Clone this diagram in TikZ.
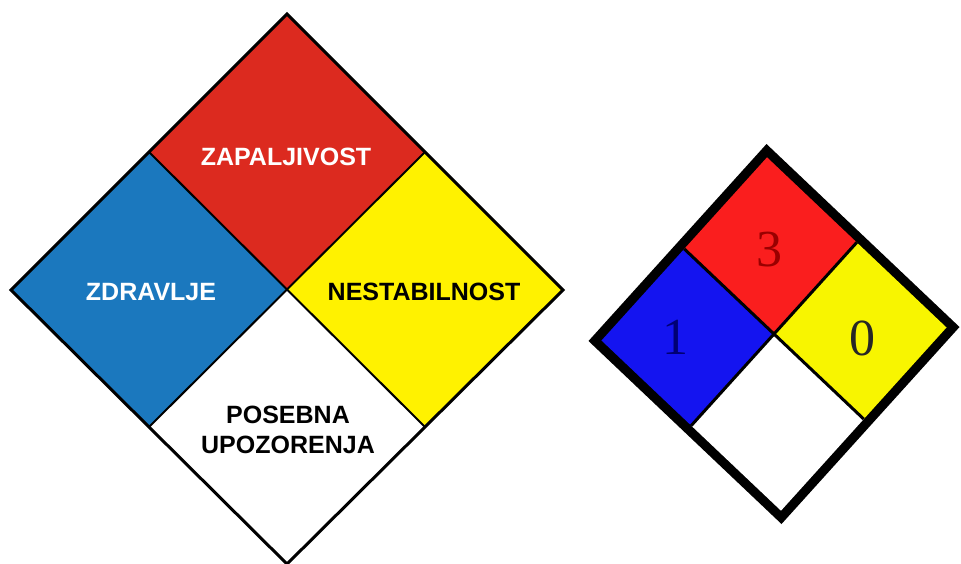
\documentclass[tikz,border=0pt]{standalone}
\usepackage{fontspec}
\usetikzlibrary{calc}
\setmainfont{Liberation Sans}
\newfontfamily\numfont{Liberation Serif}
\definecolor{nred}{HTML}{DC2A1F}
\definecolor{nblue}{HTML}{1B78BE}
\definecolor{nyellow}{HTML}{FFF200}
\definecolor{sred}{HTML}{FA1E1E}
\definecolor{sblue}{HTML}{1414F0}
\definecolor{syellow}{HTML}{F8F500}
\tikzset{
  lbl/.style={font=\fontsize{25}{30}\selectfont\bfseries, align=center, inner sep=0pt},
  dig/.style={font=\fontsize{52}{52}\selectfont\numfont, inner sep=0pt},
  outerline/.style={draw=black, line width=3pt, line join=miter},
  innerline/.style={draw=black, line width=2pt},
  sline/.style={draw=black, line width=3pt},
}
\begin{document}
\begin{tikzpicture}[x=1pt,y=-1pt]
\useasboundingbox (0,0) rectangle (961,563);
\fill[white] (0,0) rectangle (961,563);
% ---------- left diamond ----------
\coordinate (T) at (287,14);
\coordinate (L) at (11,290);
\coordinate (R) at (563,290);
\coordinate (B) at (287,564);
\coordinate (C) at (287,290);
\coordinate (TL) at ($(T)!0.5!(L)$);
\coordinate (TR) at ($(T)!0.5!(R)$);
\coordinate (BL) at ($(B)!0.5!(L)$);
\coordinate (BR) at ($(B)!0.5!(R)$);
\fill[nred] (T) -- (TR) -- (C) -- (TL) -- cycle;
\fill[nyellow] (TR) -- (R) -- (BR) -- (C) -- cycle;
\fill[white] (C) -- (BR) -- (B) -- (BL) -- cycle;
\fill[nblue] (L) -- (TL) -- (C) -- (BL) -- cycle;
\draw[innerline] (TL) -- (BR);
\draw[innerline] (TR) -- (BL);
\draw[outerline] (T) -- (R) -- (B) -- (L) -- cycle;
\node[lbl, text=white] (zap) at (286,157) {ZAPALJIVOST};
\node[lbl, text=white] (zdr) at (151,292) {ZDRAVLJE};
\node[lbl, text=black] (nes) at (424,292) {NESTABILNOST};
\node[lbl, text=black] (pos) at (288,430) {POSEBNA\\UPOZORENJA};
% ---------- right diamond ----------
\coordinate (sC) at (774,334);
\coordinate (U) at (185.5,-7);
\coordinate (V) at (7.5,190);
\coordinate (oT) at ($(sC)-(V)$);
\coordinate (oR) at ($(sC)+(U)$);
\coordinate (oB) at ($(sC)+(V)$);
\coordinate (oL) at ($(sC)-(U)$);
\def\k{0.93}
\coordinate (iT) at ($(sC)-\k*(V)$);
\coordinate (iR) at ($(sC)+\k*(U)$);
\coordinate (iB) at ($(sC)+\k*(V)$);
\coordinate (iL) at ($(sC)-\k*(U)$);
\coordinate (mTL) at ($(iT)!0.5!(iL)$);
\coordinate (mTR) at ($(iT)!0.5!(iR)$);
\coordinate (mBR) at ($(iB)!0.5!(iR)$);
\coordinate (mBL) at ($(iB)!0.5!(iL)$);
\fill[black] (oT) -- (oR) -- (oB) -- (oL) -- cycle;
\fill[sred] (iT) -- (mTR) -- (sC) -- (mTL) -- cycle;
\fill[syellow] (mTR) -- (iR) -- (mBR) -- (sC) -- cycle;
\fill[white] (sC) -- (mBR) -- (iB) -- (mBL) -- cycle;
\fill[sblue] (iL) -- (mTL) -- (sC) -- (mBL) -- cycle;
\draw[sline] (mTL) -- (mBR);
\draw[sline] (mTR) -- (mBL);
\node[dig, text=red!60!black] (n3) at (769,250) {3};
\node[dig, text=blue!45!black] (n1) at (675,337) {1};
\node[dig, text=black!85] (n0) at (862,338) {0};
\end{tikzpicture}
\end{document}
